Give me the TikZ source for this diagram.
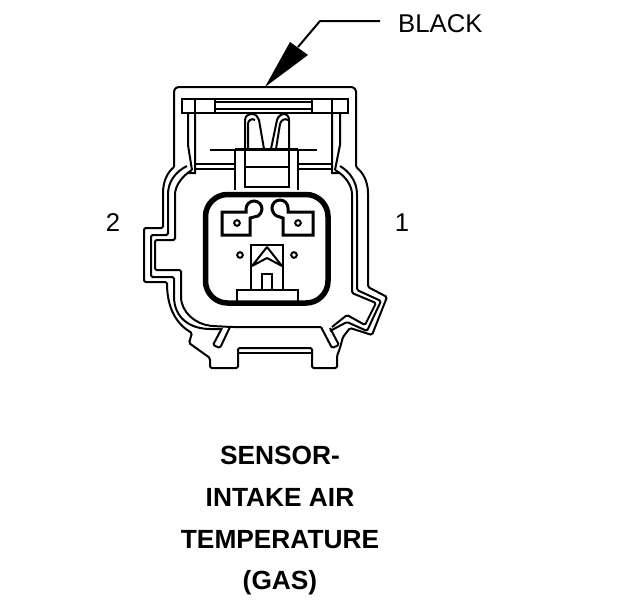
\documentclass[tikz,border=0pt]{standalone}
\usepackage{fontspec}
\setmainfont{Liberation Sans}
\usetikzlibrary{positioning}

\begin{document}
\begin{tikzpicture}[x=1pt, y=-1pt,
        shell/.style={draw=black, line width=2pt, line join=miter, rounded corners=1.5pt},
        part/.style={draw=black, line width=2pt},
        pin/.style={draw=black, line width=3pt, fill=white, line join=miter},
        pinlabel/.style={font=\fontsize{25.7}{28}\selectfont, inner sep=0pt},
        title/.style={font=\fontsize{26.3}{28}\selectfont\bfseries, inner sep=0pt}]
    \useasboundingbox (0,0) rectangle (624,600);

    % outer shell
    \draw [shell] (174,167) -- (174,90) -- (177,87) -- (353,87) -- (356,90) -- (356,167)
        .. controls (362,172) and (368,180) .. (368,195) -- (368,287) -- (387,297) -- (372,335)
        -- (350,328) -- (343,337) -- (340,348) -- (337,356) -- (337,368) -- (312,368) -- (312,348)
        -- (238,348) -- (238,368) -- (210,368) -- (210,358) -- (189,343) -- (192,333)
        .. controls (178,325) and (167,310) .. (167,282) -- (144,282) -- (144,228) -- (163,228) -- (163,195)
        .. controls (163,180) and (168,172) .. (174,167);
    % inner walls
    \draw [shell] (187,166) .. controls (175,172) and (168,182) .. (168,196) -- (168,235) -- (151,235)
        -- (151,277) -- (174,277) -- (174,295)
        .. controls (174,318) and (190,329) .. (212,329) -- (222,329);
    \draw [shell] (192,170) .. controls (182,176) and (175,186) .. (175,196) -- (175,240) -- (155,240)
        -- (155,270) -- (181,270) -- (181,295)
        .. controls (181,312) and (195,324) .. (212,326) -- (232,327) -- (321,327);
    \draw [shell] (340,166) .. controls (350,172) and (357,182) .. (357,196) -- (357,290) -- (381,301)
        -- (367,331) -- (347,322) -- (330,331);
    \draw [shell] (335,170) .. controls (346,176) and (352,186) .. (352,196) -- (352,293) -- (376,303)
        -- (365,325) -- (347,315) -- (332,327);
    % clip legs
    \draw [shell] (230,327) -- (220,348) -- (213,345) -- (222,328);
    \draw [shell] (321,327) -- (332,348) -- (339,345) -- (330,328);
    \draw [part] (238,353) -- (312,353);

    % top bar
    \draw [part] (182,99) rectangle (348,113);
    \draw [part] (195,99) -- (195,113) (215,99) -- (215,113) (312,99) -- (312,113) (332,99) -- (332,113);
    \draw [part] (215,102) -- (312,102) (215,109) -- (312,109);
    % side posts
    \draw [part] (188,113) -- (188,145) -- (192,170) (195,113) -- (195,173) -- (188,173);
    \draw [part] (340,113) -- (340,145) -- (335,170) (332,113) -- (332,173) -- (340,173);
    \draw [part] (195,164) -- (235,164) (195,169) -- (235,169) (298,164) -- (332,164) (298,169) -- (332,169);
    % latch
    \draw [part] (210,150) -- (317,150);
    \draw [line width=3pt] (235,149) -- (298,149);
    \draw [part] (235,149) -- (235,190) (298,149) -- (298,190);
    \draw [part] (245,149) -- (245,187) -- (289,187) -- (289,149) (245,167) -- (289,167);
    \draw [part] (245,149) -- (245,120) .. controls (245,115) and (250,114) .. (252,114)
        .. controls (256,114) and (258,117) .. (259,120) -- (264,149);
    \draw [part] (248,149) -- (248,124) .. controls (248,120) and (252,118) .. (255,120);
    \draw [part] (271,149) -- (277,120) .. controls (278,116) and (282,114) .. (284,114)
        .. controls (288,114) and (289,118) .. (289,120) -- (289,149);
    \draw [part] (276,149) -- (280,124) .. controls (281,120) and (285,118) .. (288,120);

    % socket face
    \draw [draw=black, line width=5.5pt, rounded corners=22pt] (205.5,194.5) rectangle (328,303);
    % terminals
    \draw [pin] (222,212) -- (246,212) -- (246,209) .. controls (246,204.6) and (249.6,201) .. (254,201)
        .. controls (258.4,201) and (262,204.6) .. (262,209)
        .. controls (262,212) and (260,215) .. (258,216) -- (250,218) -- (250,235) -- (222,235) -- cycle;
    \draw [pin] (313,212) -- (288,212) -- (288,208) .. controls (288,203.6) and (284.4,200) .. (280,200)
        .. controls (275.6,200) and (272,203.6) .. (272,208)
        .. controls (272,212) and (275,215.5) .. (277,216) -- (283,218) -- (283,235) -- (313,235) -- cycle;
    \foreach \px/\py in {237/223, 298/223, 240/255, 294/255}
        \draw [draw=black, line width=2pt] (\px,\py) circle (2.8);
    % centre key
    \draw [part] (251,245) rectangle (283,290);
    \draw [part, line join=bevel] (252,266) -- (267,247) -- (282,266) -- (267,258) -- cycle;
    \draw [part] (262,274) rectangle (272,290);
    \draw [part] (237,301) -- (237,290) -- (298,290) -- (298,301);

    % leader
    \node [pinlabel, anchor=west] (black) at (398,24) {BLACK};
    \coordinate (leaderend) at (380,21);
    \coordinate (leaderbend) at (320,21);
    \coordinate (leadertip) at (265,87);
    \draw [line width=2pt] (leaderend) -- (leaderbend) -- (298,47);
    \fill (leadertip) -- (290,42) -- (308,55) -- cycle;

    % pin numbers
    \node [pinlabel] (pintwo) at (113,223) {2};
    \node [pinlabel] (pinone) at (402,223) {1};

    % caption
    \node [title] (captiona) at (280,455) {SENSOR-};
    \node [title] (captionb) at (280,497) {INTAKE AIR};
    \node [title] (captionc) at (280,540) {TEMPERATURE};
    \node [title] (captiond) at (280,583) {(GAS)};
\end{tikzpicture}
\end{document}
